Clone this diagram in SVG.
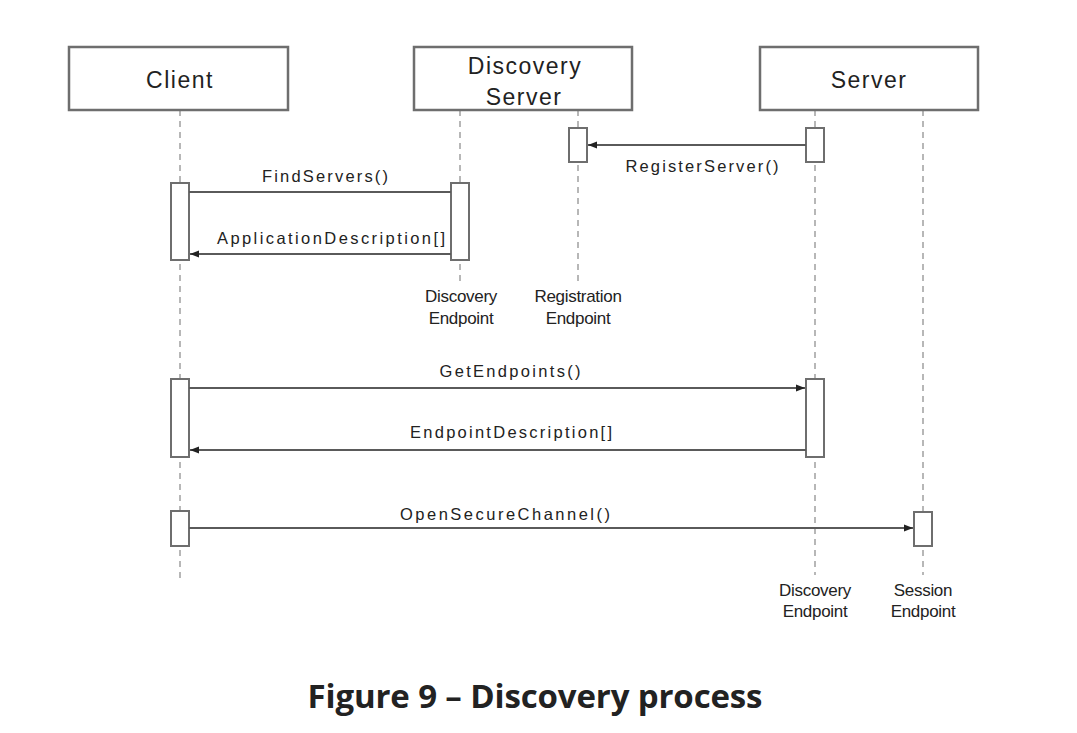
<svg xmlns="http://www.w3.org/2000/svg" width="1077" height="733" viewBox="0 0 1077 733">
<style>
.box{fill:#fff;stroke:#6e6e6e;stroke-width:2.5}
.act{fill:#fff;stroke:#6e6e6e;stroke-width:2}
.life{stroke:#a0a0a0;stroke-width:1.5;stroke-dasharray:6,5;fill:none}
.msg{stroke:#5a5a5a;stroke-width:2;fill:none}
.title{font-family:"Liberation Sans",Arial,sans-serif;font-size:23px;fill:#222;text-anchor:middle;letter-spacing:1.5px}
.lbl{font-family:"Liberation Sans",Arial,sans-serif;font-size:16.5px;fill:#222;text-anchor:middle}
.ep{font-family:"Liberation Sans",Arial,sans-serif;font-size:17px;fill:#222;text-anchor:middle;letter-spacing:-0.3px}
.cap{font-family:"Open Sans","Noto Sans",sans-serif;font-size:33px;font-weight:bold;fill:#222;text-anchor:middle}
</style>
<defs>
<marker id="ah" viewBox="0 0 10 10" refX="10" refY="5" markerWidth="9" markerHeight="9" markerUnits="userSpaceOnUse" orient="auto">
<path d="M0,1 L10,5 L0,9 z" fill="#222"/>
</marker>
</defs>
<rect width="1077" height="733" fill="#fff"/>
<g id="lifelines">
<line class="life" x1="180" y1="110" x2="180" y2="582"/>
<line class="life" x1="460" y1="110" x2="460" y2="282"/>
<line class="life" x1="578" y1="110" x2="578" y2="282"/>
<line class="life" x1="815" y1="110" x2="815" y2="575"/>
<line class="life" x1="923" y1="110" x2="923" y2="575"/>
</g>
<g id="client"><rect class="box" x="69" y="47" width="219" height="63"/><text class="title" x="180" y="88">Client</text></g>
<g id="discovery-server"><rect class="box" x="414" y="47" width="218" height="63"/><text class="title" x="525" y="74">Discovery</text><text class="title" x="524" y="105">Server</text></g>
<g id="server"><rect class="box" x="760" y="47" width="218" height="63"/><text class="title" x="869" y="88">Server</text></g>
<g id="activations">
<rect class="act" x="569" y="128" width="18" height="34"/>
<rect class="act" x="806" y="128" width="18" height="34"/>
<rect class="act" x="171" y="183" width="18" height="77"/>
<rect class="act" x="451" y="183" width="18" height="77"/>
<rect class="act" x="171" y="379" width="18" height="78"/>
<rect class="act" x="806" y="379" width="18" height="78"/>
<rect class="act" x="171" y="511" width="18" height="35"/>
<rect class="act" x="914" y="512" width="18" height="34"/>
</g>
<g id="connectors">
<line class="msg" x1="806" y1="145" x2="588" y2="145" marker-end="url(#ah)"/>
<line class="msg" x1="189" y1="192" x2="451" y2="192"/>
<line class="msg" x1="451" y1="254" x2="190" y2="254" marker-end="url(#ah)"/>
<line class="msg" x1="189" y1="388" x2="805" y2="388" marker-end="url(#ah)"/>
<line class="msg" x1="806" y1="450" x2="190" y2="450" marker-end="url(#ah)"/>
<line class="msg" x1="189" y1="528" x2="913" y2="528" marker-end="url(#ah)"/>
</g>
<g id="labels">
<text class="lbl" x="702" y="172" textLength="153" lengthAdjust="spacing">RegisterServer()</text>
<text class="lbl" x="325" y="182" textLength="126" lengthAdjust="spacing">FindServers()</text>
<text class="lbl" x="331" y="244" textLength="228" lengthAdjust="spacing">ApplicationDescription[]</text>
<text class="lbl" x="510" y="377" textLength="141" lengthAdjust="spacing">GetEndpoints()</text>
<text class="lbl" x="511" y="438" textLength="202" lengthAdjust="spacing">EndpointDescription[]</text>
<text class="lbl" x="505" y="520" textLength="210" lengthAdjust="spacing">OpenSecureChannel()</text>
<text class="ep" x="461" y="302">Discovery</text><text class="ep" x="461" y="324">Endpoint</text>
<text class="ep" x="578" y="302">Registration</text><text class="ep" x="578" y="324">Endpoint</text>
<text class="ep" x="815" y="596">Discovery</text><text class="ep" x="815" y="617">Endpoint</text>
<text class="ep" x="923" y="596">Session</text><text class="ep" x="923" y="617">Endpoint</text>
</g>
<text class="cap" x="535" y="708" textLength="455" lengthAdjust="spacing">Figure 9 – Discovery process</text>
</svg>
